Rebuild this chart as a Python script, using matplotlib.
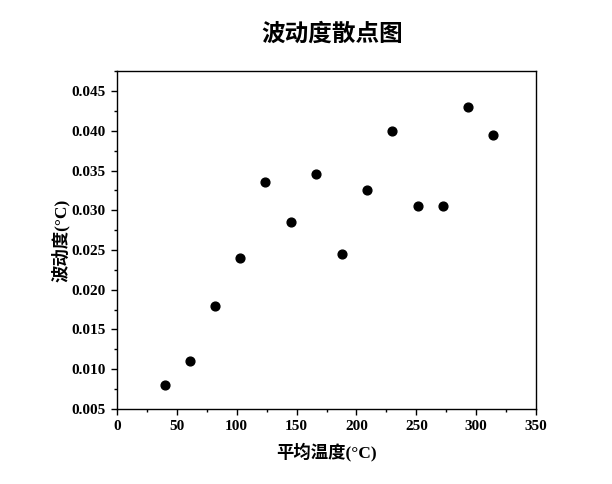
import matplotlib.pyplot as plt
from matplotlib.ticker import MultipleLocator

# data
avg_temp = [40, 61, 82, 103, 124, 145, 166, 188, 209, 230, 251, 272, 293, 314]
volatility = [0.008, 0.011, 0.018, 0.024, 0.0335, 0.0285, 0.0345, 0.0245,
              0.0325, 0.040, 0.0305, 0.0305, 0.043, 0.0395]

title = '波动度散点图'
xlabel = '平均温度(°C)'
ylabel = '波动度(°C)'

mixed = ['Liberation Serif', 'Noto Sans CJK SC']

fig = plt.figure(figsize=(6.12, 4.84), dpi=100)
ax = fig.add_axes([0.191, 0.155, 0.685, 0.698])

ax.scatter(avg_temp, volatility, s=40, color='black', zorder=3)

ax.set_xlim(0, 350)
ax.set_ylim(0.005, 0.0475)
ax.xaxis.set_major_locator(MultipleLocator(50))
ax.xaxis.set_minor_locator(MultipleLocator(25))
ax.yaxis.set_major_locator(MultipleLocator(0.005))
ax.yaxis.set_minor_locator(MultipleLocator(0.0025))
ax.yaxis.set_major_formatter(plt.FuncFormatter(lambda v, p: f'{v:.3f}'))

ax.tick_params(which='both', direction='out', top=False, right=False)
ax.tick_params(which='major', length=4, width=1, labelsize=11, pad=4)
ax.tick_params(which='minor', length=2.5, width=1)
for lab in ax.get_xticklabels() + ax.get_yticklabels():
    lab.set_family('Liberation Serif')
    lab.set_fontweight('bold')

for sp in ax.spines.values():
    sp.set_linewidth(1)

fig.text(0.542, 0.93, title, family='Noto Sans CJK SC', fontweight='bold',
         fontsize=17, ha='center', va='center')
ax.set_xlabel(xlabel, family=mixed, fontweight='bold', fontsize=12.5, labelpad=7)
ax.set_ylabel(ylabel, family=mixed, fontweight='bold', fontsize=12.5, labelpad=1)

fig.savefig('out.png', dpi=100)
